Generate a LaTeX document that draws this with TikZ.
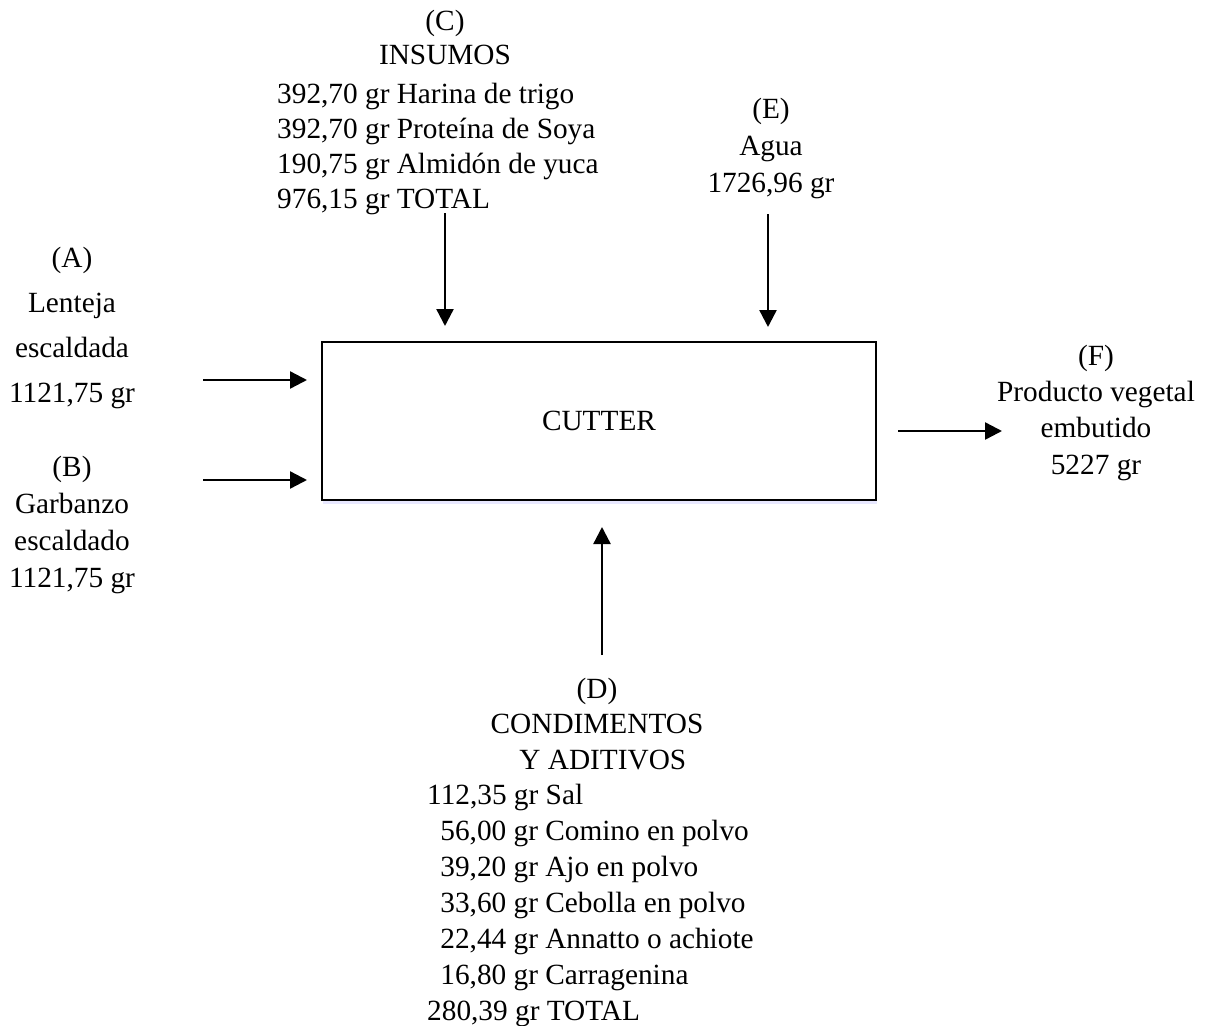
\documentclass[tikz,border=0pt]{standalone}
\usepackage{fontspec}
\setmainfont{Liberation Serif}
\usetikzlibrary{arrows.meta,positioning,shadows}

\begin{document}
\begin{tikzpicture}[x=1pt,y=-1pt,
  txt/.style={inner sep=0pt,align=center,font=\fontsize{29.3}{36}\selectfont},
  flow/.style={-{Triangle[length=17pt,width=17pt]},line width=2.4pt}]
  \useasboundingbox (0,0) rectangle (1212,1025);
  % central box
  \node[txt,draw,line width=1.5pt,minimum width=554pt,minimum height=158pt,
        fill=white,drop shadow={shadow xshift=1pt,shadow yshift=-4pt,fill=blue!15,opacity=0.6}]
        (cutter) at (599,421) {CUTTER};
  % inputs (anchor = baseline of the last line)
  \node[txt,anchor=base,font=\fontsize{29.3}{45}\selectfont] (lenteja) at (72,402)
    {(A)\\Lenteja\\escaldada\\1121,75 gr};
  \node[txt,anchor=base,font=\fontsize{29.3}{37}\selectfont] (garbanzo) at (72,587)
    {(B)\\Garbanzo\\escaldado\\1121,75 gr};
  \node[txt,anchor=base,font=\fontsize{29.3}{35}\selectfont] (insumos) at (445,65)
    {(C)\\INSUMOS};
  \node[txt,anchor=base west,align=left,font=\fontsize{29.3}{35}\selectfont] (insumoslist) at (277,208)
    {392,70 gr Harina de trigo\\392,70 gr Proteína de Soya\\190,75 gr Almidón de yuca\\976,15 gr TOTAL};
  \node[txt,anchor=base,font=\fontsize{29.3}{37}\selectfont] (agua) at (771,192)
    {(E)\\Agua\\1726,96 gr};
  \node[txt,anchor=base,font=\fontsize{29.3}{35.5}\selectfont] (condimentos) at (597,769)
    {(D)\\CONDIMENTOS\\\hspace{0.4em}Y ADITIVOS};
  \node[txt,anchor=base west,align=left,font=\fontsize{29.3}{36}\selectfont] (condlist) at (427,1020)
    {112,35 gr Sal\\
     \hspace{0.45em}56,00 gr Comino en polvo\\
     \hspace{0.45em}39,20 gr Ajo en polvo\\
     \hspace{0.45em}33,60 gr Cebolla en polvo\\
     \hspace{0.45em}22,44 gr Annatto o achiote\\
     \hspace{0.45em}16,80 gr Carragenina\\
     280,39 gr TOTAL};
  % output
  \node[txt,anchor=base,font=\fontsize{29.3}{36.3}\selectfont] (producto) at (1096,474)
    {(F)\\Producto vegetal\\embutido\\5227 gr};
  % arrow ends
  \coordinate (aout) at (203,380);   \coordinate (ain) at (307,380);
  \coordinate (bout) at (203,480);   \coordinate (bin) at (307,480);
  \coordinate (cout) at (445,213);   \coordinate (cin) at (445,326);
  \coordinate (eout) at (768,214);   \coordinate (ein) at (768,327);
  \coordinate (dout) at (602,655);   \coordinate (din) at (602,527);
  \coordinate (fout) at (898,431);   \coordinate (fin) at (1002,431);
  % arrows
  \draw[flow] (aout) -- (ain);
  \draw[flow] (bout) -- (bin);
  \draw[flow] (cout) -- (cin);
  \draw[flow] (eout) -- (ein);
  \draw[flow] (dout) -- (din);
  \draw[flow] (fout) -- (fin);
\end{tikzpicture}
\end{document}
